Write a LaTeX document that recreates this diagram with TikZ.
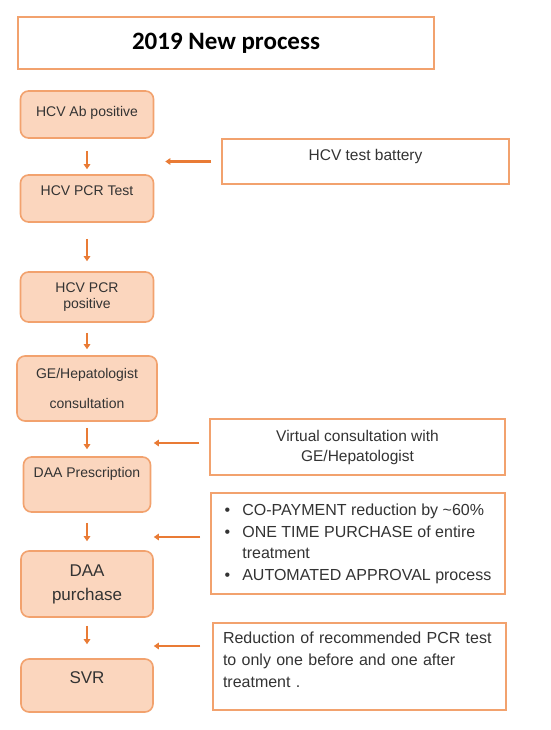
\documentclass[tikz,border=0pt]{standalone}
\usepackage{fontspec}
\setmainfont{Liberation Sans}
\newfontfamily\titlefont{Carlito}
\usetikzlibrary{arrows.meta}
\definecolor{pcOrange}{HTML}{E97B35}
\definecolor{pcEdge}{HTML}{F2A26E}
\definecolor{pcFill}{HTML}{FBD6BE}
\definecolor{pcInk}{HTML}{333333}

\begin{document}
\begin{tikzpicture}[x=1pt,y=-1pt,
 stepbox/.style={draw=pcEdge,fill=pcFill,line width=1.6pt,rounded corners=8pt,text=pcInk,inner ysep=0pt,font=\fontsize{14}{16.5}\selectfont},
 notebox/.style={draw=pcEdge,line width=1.6pt,text=pcInk,font=\fontsize{15.5}{20}\selectfont},
 flow/.style={pcOrange,line width=2.4pt,-{Triangle[length=5pt,width=6.5pt]}}]
\path[fill=white,use as bounding box] (0,0) rectangle (550,730);
\node[draw=pcEdge,line width=1.6pt,minimum width=416pt,minimum height=52pt,font=\titlefont\bfseries\fontsize{25}{30}\selectfont] (title) at (226,43) {2019 New process};
\node[stepbox,minimum width=133pt,text height=26pt,text depth=21pt] (hab) at (87,114.5) {HCV Ab positive};
\node[stepbox,minimum width=133pt,text height=20pt,text depth=27pt] (pcrtest) at (87,198.5) {HCV PCR Test};
\node[stepbox,minimum width=133pt,minimum height=50pt,align=center] (pcrpos) at (87,297) {HCV PCR\\positive};
\node[stepbox,minimum width=140pt,minimum height=65pt,align=center] (ge) at (87,388.5) {GE/Hepatologist\\[13pt]consultation};
\node[stepbox,minimum width=127pt,text height=20pt,text depth=35pt] (daapre) at (87,484.5) {DAA Prescription};
\node[stepbox,minimum width=132pt,minimum height=66pt,align=center,font=\fontsize{17}{24}\selectfont] (daapur) at (87,584) {DAA\\purchase};
\node[stepbox,minimum width=132pt,text height=24pt,text depth=29pt,font=\fontsize{17}{20}\selectfont] (svr) at (87,685.5) {SVR};
\node[notebox,minimum width=287pt,inner ysep=0pt,text height=21.5pt,text depth=23.5pt] (battery) at (365.5,161.5) {HCV test battery};
\node[notebox,minimum width=295pt,minimum height=56pt,align=center] (virtual) at (357.5,447) {Virtual consultation with\\GE/Hepatologist};
\node[notebox,minimum width=294pt,minimum height=101pt,font=\fontsize{16}{21.5}\selectfont] (benefit) at (358,543.5) {\begin{tabular}{@{}l@{\hspace{12pt}}l@{}}
 \textbullet & CO-PAYMENT reduction by \textasciitilde60\%\\
 \textbullet & ONE TIME PURCHASE of entire\\
  & treatment\\
 \textbullet & AUTOMATED APPROVAL process
 \end{tabular}};
\node[notebox,text width=273pt,align=left,inner xsep=10pt,inner ysep=0pt,text height=20.5pt,text depth=66.5pt,font=\fontsize{16}{22}\selectfont] (reduce) at (359.5,666.5) {Reduction of recommended PCR test\\to only one before and one after\\treatment .};
\foreach \a/\b/\s/\e in {hab/pcrtest/12/5,pcrtest/pcrpos/16/10,pcrpos/ge/10/6,ge/daapre/6/7,daapre/daapur/10/9,daapur/svr/8/14}
 \draw[flow,shorten <=\s pt,shorten >=\e pt] (\a.south) -- (\b.north);
\draw[flow,shorten <=10pt,shorten >=11pt] (battery.west) -- (battery.west -| pcrtest.east);
\draw[flow,shorten <=10pt] ([yshift=4pt]virtual.west) -- ([yshift=4pt]virtual.west -| daapur.east);
\draw[flow,shorten <=10pt] ([yshift=6.5pt]benefit.west) -- ([yshift=6.5pt]benefit.west -| daapur.east);
\draw[flow,shorten <=12pt] ([yshift=20.5pt]reduce.west) -- ([yshift=20.5pt]reduce.west -| daapur.east);
\end{tikzpicture}
\end{document}
